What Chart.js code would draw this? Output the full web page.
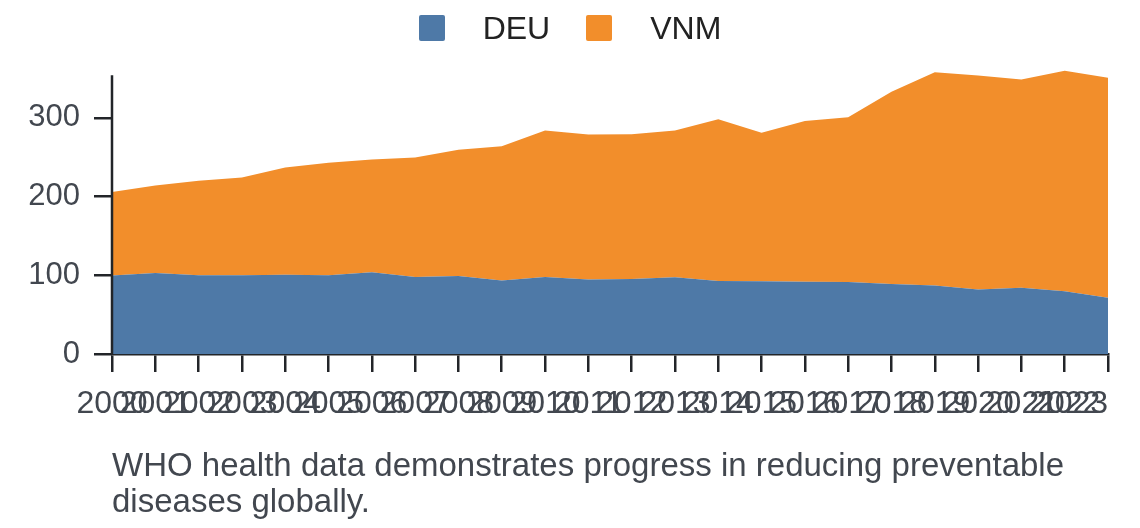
<!DOCTYPE html>
<html>
<head>
<meta charset="utf-8">
<script src="https://cdn.jsdelivr.net/npm/chart.js@4.4.1/dist/chart.umd.min.js"></script>
<style>
  body { margin: 0; background: #fff; font-family: "Liberation Sans", Arial, sans-serif; }
  #wrap { position: relative; width: 1140px; height: 528px; overflow: hidden; }
  #chart { position: absolute; left: 0; top: 0; }
  #legend { position: absolute; left: 0; top: 10px; width: 1140px; height: 36px;
            display: flex; justify-content: center; align-items: center;
            font-size: 32px; line-height: 36px; color: #222; }
  .item { display: flex; align-items: center; }
  .item + .item { margin-left: 36px; }
  .box { width: 26px; height: 26px; border-radius: 2px; margin-right: 38px; }
  #caption { position: absolute; left: 112px; top: 447px; width: 1010px;
             font-size: 33px; line-height: 36px; color: #42474f; }
</style>
</head>
<body>
<div id="wrap">
  <canvas id="chart" width="1140" height="528"></canvas>
  <div id="legend"></div>
  <div id="caption">WHO health data demonstrates progress in reducing preventable diseases globally.</div>
</div>
<script>
// values
const years = ['2000', '2001', '2002', '2003', '2004', '2005', '2006', '2007', '2008', '2009', '2010', '2011',
               '2012', '2013', '2014', '2015', '2016', '2017', '2018', '2019', '2020', '2021', '2022', '2023'];
const deu = [99.6, 103, 100, 100, 100.8, 100, 103.8, 97.9, 99.2, 93.2, 97.9, 94.7,
             95.3, 97.5, 92.8, 92.4, 91.9, 91.5, 89, 86.9, 81.8, 84.3, 79.7, 71.6];
const vnm = [106.3, 111, 119.9, 124.2, 136.1, 142.8, 143.2, 151.7, 160.1, 170.8, 186, 184.1,
             183.9, 186.4, 205.5, 188.5, 203.9, 209.3, 244, 271.1, 272, 264.4, 280, 279.2];
const yTicks = [0, 100, 200, 300];
const seriesNames = ['DEU', 'VNM'];
const colors = ['#4e79a7', '#f28e2b'];

const axisColor = '#222529';
const tickColor = '#42474f';
const fontFamily = '"Liberation Sans", Arial, sans-serif';
const axisTop = 354; // where the drawn y axis line ends

// legend as html
const legend = document.getElementById('legend');
seriesNames.forEach((name, i) => {
  const item = document.createElement('div');
  item.className = 'item';
  item.innerHTML = '<span class="box" style="background:' + colors[i] + '"></span><span>' + name + '</span>';
  legend.appendChild(item);
});

// y axis line that stops below the top of the plot, like the original
const yAxisLine = {
  id: 'yAxisLine',
  afterDraw(chart) {
    const { ctx, chartArea, scales } = chart;
    ctx.save();
    ctx.strokeStyle = axisColor;
    ctx.lineWidth = 2.5;
    ctx.beginPath();
    ctx.moveTo(chartArea.left, scales.y.getPixelForValue(axisTop));
    ctx.lineTo(chartArea.left, chartArea.bottom + 1);
    ctx.stroke();
    ctx.restore();
  }
};

new Chart(document.getElementById('chart').getContext('2d'), {
  type: 'line',
  data: {
    labels: years,
    datasets: [
      { label: seriesNames[0], data: deu, backgroundColor: colors[0], borderColor: 'rgba(0,0,0,0)',
        borderWidth: 1, fill: 'origin', pointRadius: 0, tension: 0 },
      { label: seriesNames[1], data: vnm, backgroundColor: colors[1], borderColor: 'rgba(0,0,0,0)',
        borderWidth: 1, fill: '-1', pointRadius: 0, tension: 0 }
    ]
  },
  options: {
    responsive: false,
    animation: false,
    devicePixelRatio: 1,
    layout: { padding: { top: 69, right: 32, left: 0, bottom: 84 } },
    plugins: { legend: { display: false }, tooltip: { enabled: false } },
    scales: {
      x: {
        offset: false,
        afterFit: (scale) => { scale.height = 90; scale.paddingLeft = 0; scale.paddingRight = 0; },
        border: { display: true, color: axisColor, width: 2.5 },
        grid: { drawOnChartArea: false, drawTicks: true, tickLength: 18, color: axisColor, lineWidth: 2.5 },
        ticks: {
          autoSkip: false, maxRotation: 0, minRotation: 0, padding: 13, color: tickColor,
          font: { family: fontFamily, size: 32 },
          // last label is pulled back inside the plot, as in the original
          callback: (v, i) => i === years.length - 1 ? years[i] + '\u00a0'.repeat(8) : years[i]
        }
      },
      y: {
        stacked: true,
        min: 0,
        max: 362,
        afterFit: (scale) => { scale.width = 112; },
        afterBuildTicks: (scale) => { scale.ticks = yTicks.map(v => ({ value: v })); },
        border: { display: false },
        grid: { drawOnChartArea: false, drawTicks: true, tickLength: 18, color: axisColor, lineWidth: 2.5 },
        ticks: { padding: 14, color: tickColor, font: { family: fontFamily, size: 31 } }
      }
    }
  },
  plugins: [yAxisLine]
});
</script>
</body>
</html>
